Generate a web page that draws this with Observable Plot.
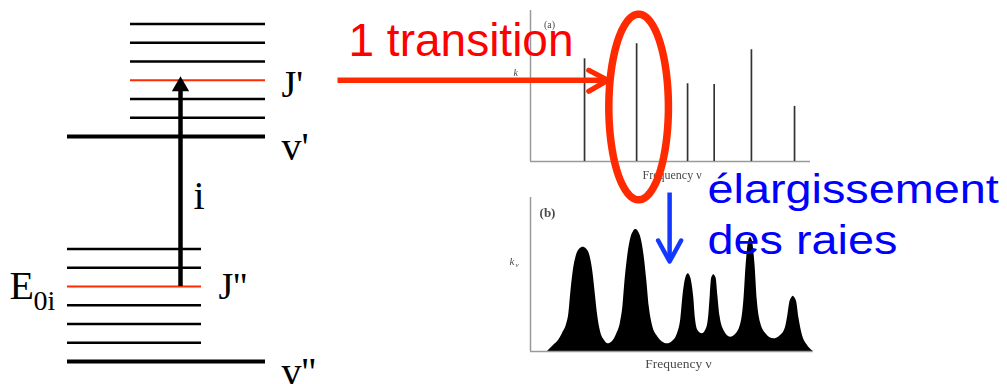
<!DOCTYPE html>
<html>
<head>
<meta charset="utf-8">
<script src="https://cdn.jsdelivr.net/npm/d3@7"></script>
<script src="https://cdn.jsdelivr.net/npm/@observablehq/plot@0.6"></script>
<style>
  html, body { margin: 0; padding: 0; background: #fff; }
  #fig { position: relative; width: 1007px; height: 384px; overflow: hidden; }
  #fig > svg { position: absolute; overflow: visible; }
</style>
</head>
<body>
<div id="fig"></div>
<script>
// ---------- energy levels (in units of the rotational spacing, v'' = 0) ----------
const vibLevels = [0, 12];                     // v'', v'
const lowerRot = [1, 2, 3, 4, 5, 6];           // rotational ladder on v''
const upperRot = [13, 14, 15, 16, 17, 18];     // rotational ladder on v'
const lowerJ = 4;                              // J''
const upperJ = 15;                             // J'
const levelLabels = ["J'", "v'", "i", "J''", "E", "0i", "v''"];

// ---------- (a) line spectrum: frequency ν and strength k (arbitrary units) ----------
const lineFreq = [1.93, 3.79, 5.61, 6.56, 7.89, 9.43];
const lineStrength = [0.68, 0.78, 0.515, 0.51, 0.74, 0.365];

// ---------- (b) broadened absorption profile k_ν ----------
const profileFreq = [0.607, 0.821, 1.0, 1.143, 1.286, 1.37, 1.43, 1.52, 1.64, 1.76, 1.882,
  2.00, 2.12, 2.23, 2.32, 2.40, 2.5, 2.643, 2.768, 2.929, 3.071, 3.214, 3.30, 3.37, 3.47,
  3.60, 3.68, 3.761, 3.85, 3.93, 4.06, 4.16, 4.24, 4.357, 4.536, 4.714, 4.893, 5.071, 5.25,
  5.37, 5.44, 5.55, 5.632, 5.72, 5.83, 5.89, 5.982, 6.132, 6.286, 6.37, 6.42, 6.47, 6.546,
  6.63, 6.69, 6.77, 6.929, 7.143, 7.357, 7.536, 7.62, 7.70, 7.79, 7.857, 7.93, 8.02, 8.10,
  8.214, 8.429, 8.689, 8.929, 9.107, 9.19, 9.26, 9.32, 9.382, 9.45, 9.51, 9.59, 9.714,
  9.893, 10.107];
const profileK = [0, 0.039, 0.071, 0.117, 0.175, 0.247, 0.364, 0.513, 0.623, 0.665, 0.677,
  0.665, 0.623, 0.513, 0.364, 0.234, 0.130, 0.071, 0.05, 0.065, 0.110, 0.188, 0.292, 0.448, 0.617,
  0.747, 0.78, 0.792, 0.78, 0.747, 0.617, 0.448, 0.292, 0.169, 0.097, 0.062, 0.05, 0.065, 0.117,
  0.214, 0.351, 0.48, 0.505, 0.48, 0.351, 0.214, 0.136, 0.115, 0.149, 0.240, 0.364, 0.475, 0.498,
  0.475, 0.364, 0.227, 0.130, 0.093, 0.117, 0.201, 0.331, 0.558, 0.715, 0.740, 0.715, 0.558, 0.331,
  0.188, 0.110, 0.082, 0.104, 0.156, 0.234, 0.318, 0.345, 0.359, 0.345, 0.318, 0.214, 0.104,
  0.039, 0];

// ---------- annotation texts ----------
const transitionText = ["1 transition"];
const broadeningText = ["élargissement", "des raies"];

const RED = "#ff2a00";
const SERIF = "Liberation Serif, Times New Roman, serif";
const SANS = "Liberation Sans, Arial, sans-serif";
const fig = document.getElementById("fig");

function place(svg, left, top, filter) {
  svg.style.left = left + "px";
  svg.style.top = top + "px";
  if (filter) svg.style.filter = filter;
  fig.appendChild(svg);
  return svg;
}

// ---------- energy level diagram ----------
const serifLabel = (txt, yVal, x, dy, size) =>
  Plot.text([yVal], {x, y: d => d, text: () => txt, dy, fontSize: size, fontFamily: SERIF,
    textAnchor: "start", lineAnchor: "bottom", fill: "#000"});

const levelPlot = Plot.plot({
  width: 340, height: 384, margin: 0,
  x: {domain: [0, 340], axis: null},
  y: {domain: [-1.2267, 19.2533], axis: null},
  marks: [
    Plot.ruleY(upperRot.filter(e => e !== upperJ), {x1: 130, x2: 265, stroke: "#000", strokeWidth: 2.4}),
    Plot.ruleY([upperJ], {x1: 130, x2: 265, stroke: RED, strokeWidth: 2}),
    Plot.ruleY(lowerRot.filter(e => e !== lowerJ), {x1: 67, x2: 201, stroke: "#000", strokeWidth: 2.4}),
    Plot.ruleY([lowerJ], {x1: 67, x2: 201, stroke: RED, strokeWidth: 2}),
    Plot.ruleY(vibLevels, {x1: 67, x2: 265, stroke: "#000", strokeWidth: 4}),
    // transition i
    Plot.ruleX([180], {y1: lowerJ, y2: upperJ - 0.3, stroke: "#000", strokeWidth: 4.5}),
    Plot.dot([upperJ], {x: 180, y: d => d, dy: 6, symbol: "triangle", r: 6.43, fill: "#000", stroke: "none"}),
    serifLabel(levelLabels[0], upperJ, 281, 17, 38),
    serifLabel(levelLabels[1], vibLevels[1], 281, 24, 40),
    serifLabel(levelLabels[2], (lowerJ + upperJ) / 2, 193, 26, 40),
    serifLabel(levelLabels[3], lowerJ, 218, 13, 38),
    serifLabel(levelLabels[4], lowerJ, 9, 13, 40),
    serifLabel(levelLabels[5], lowerJ, 33, 24, 28),
    serifLabel(levelLabels[6], vibLevels[0], 281, 24, 40)
  ]
});
place(levelPlot, 0, 0);

// ---------- (a) line spectrum ----------
const smallSerif = {fontFamily: SERIF, fill: "#4a4a4a"};
const aPlot = Plot.plot({
  width: 330, height: 190, marginLeft: 30, marginRight: 20, marginTop: 10, marginBottom: 29,
  x: {domain: [0, 10], axis: null},
  y: {domain: [0, 1], axis: null},
  marks: [
    Plot.ruleX([0], {y1: 0, y2: 1, stroke: "#9a9a9a", strokeWidth: 1.5}),
    Plot.ruleY([0], {x1: 0, x2: 10, stroke: "#9a9a9a", strokeWidth: 1.5}),
    Plot.ruleX(lineFreq, {y1: 0, y2: (d, i) => lineStrength[i], stroke: "#333", strokeWidth: 1.7}),
    Plot.text(["(a)"], {frameAnchor: "top-left", dx: 19, dy: 10, fontSize: 10, textAnchor: "middle", ...smallSerif}),
    Plot.text(["k"], {frameAnchor: "left", dx: -17, dy: -13, fontSize: 10, fontStyle: "italic", textAnchor: "start", ...smallSerif}),
    Plot.text(["Frequency ν"], {frameAnchor: "bottom-left", dx: 112, dy: 17, fontSize: 12, textAnchor: "start", ...smallSerif})
  ]
});
place(aPlot, 500, 0, "blur(0.4px)");

// ---------- (b) broadened spectrum ----------
const bPlot = Plot.plot({
  width: 330, height: 194, marginLeft: 30, marginRight: 20, marginTop: 7, marginBottom: 33,
  x: {domain: [0, 10], axis: null},
  y: {domain: [0, 1], axis: null},
  marks: [
    Plot.areaY(profileFreq, {x: d => d, y: (d, i) => profileK[i], fill: "#000", curve: "monotone-x"}),
    Plot.ruleX([0], {y1: 0, y2: 1, stroke: "#9a9a9a", strokeWidth: 1.5}),
    Plot.ruleY([0], {x1: 0, x2: 10.1, stroke: "#9a9a9a", strokeWidth: 1.5}),
    Plot.text(["(b)"], {frameAnchor: "top-left", dx: 17, dy: 10, fontSize: 13, fontWeight: "bold", textAnchor: "middle", ...smallSerif}),
    Plot.text(["k"], {frameAnchor: "left", dx: -21, dy: -13, fontSize: 11, fontStyle: "italic", textAnchor: "start", ...smallSerif}),
    Plot.text(["ν"], {frameAnchor: "left", dx: -15, dy: -10, fontSize: 7, fontStyle: "italic", textAnchor: "start", ...smallSerif}),
    Plot.text(["Frequency ν"], {frameAnchor: "bottom", dx: 8, dy: 16, fontSize: 13.5, textAnchor: "middle", ...smallSerif})
  ]
});
place(bPlot, 500, 190, "blur(0.45px)");

// ---------- annotations over the whole figure ----------
const jPrimeY = levelPlot.scale("y").apply(upperJ);            // height of the J' level
const stickX = 500 + aPlot.scale("x").apply(lineFreq[1]) + 2;  // the circled line
const ell = {cx: stickX, cy: 106.5, rx: 29.8, ry: 92.8};
const ellipsePts = d3.range(0, 361, 3).map(a => {
  const t = a * Math.PI / 180;
  return [ell.cx + ell.rx * Math.cos(t), ell.cy + ell.ry * Math.sin(t)];
});
const arrowTipX = ell.cx - ell.rx - 1;
const redHead = [[arrowTipX - 19, jPrimeY - 10], [arrowTipX, jPrimeY], [arrowTipX - 19, jPrimeY + 11]];
const blueX = ell.cx + 31;
const blueHead = [[blueX - 11.5, 240], [blueX, 261], [blueX + 11.5, 240]];

const overlay = Plot.plot({
  width: 1007, height: 384, margin: 0,
  x: {domain: [0, 1007], range: [0, 1007], axis: null},
  y: {domain: [0, 384], range: [0, 384], axis: null},
  marks: [
    Plot.line(ellipsePts, {stroke: RED, strokeWidth: 7.5}),
    Plot.link([0], {x1: 337, x2: arrowTipX - 1, y1: jPrimeY, y2: jPrimeY, stroke: RED, strokeWidth: 5.3}),
    Plot.line(redHead, {stroke: RED, strokeWidth: 5.3, strokeLinecap: "round", strokeLinejoin: "miter"}),
    Plot.link([0], {x1: blueX, x2: blueX, y1: 192, y2: 259, stroke: "#1438ff", strokeWidth: 4.5}),
    Plot.line(blueHead, {stroke: "#1438ff", strokeWidth: 4.5, strokeLinecap: "round"}),
    Plot.text(transitionText, {x: 348, y: 55, fontSize: 46, fontFamily: SANS, fill: "#ff0000",
      textAnchor: "start", lineAnchor: "bottom"}),
    Plot.text(broadeningText, {x: 707, y: (d, i) => [202, 253][i], fontSize: 40, fontFamily: SANS, fill: "#0000ff",
      textAnchor: "start", lineAnchor: "bottom", ariaDescription: "broadening"})
  ]
});
place(overlay, 0, 0);
// the blue caption is set wider than its nominal font
overlay.querySelectorAll('g[aria-description="broadening"] text').forEach(t => {
  t.setAttribute("transform", (t.getAttribute("transform") || "") + " scale(1.17,1)");
});
</script>
</body>
</html>
